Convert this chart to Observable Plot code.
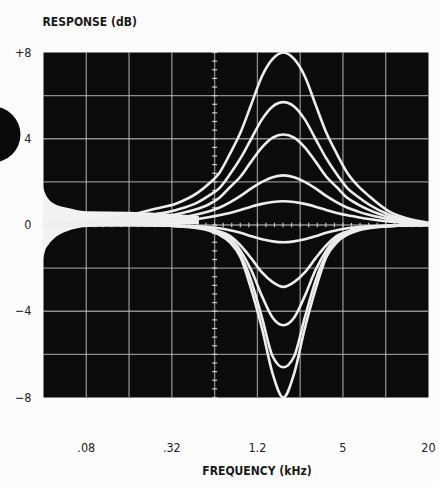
<!DOCTYPE html>
<html><head><meta charset="utf-8">
<script src="https://cdn.jsdelivr.net/npm/d3@7"></script>
<script src="https://cdn.jsdelivr.net/npm/@observablehq/plot@0.6"></script>
<style>
html,body{margin:0;padding:0;background:#fcfcfc;}
#chart{width:439px;height:487px;}
</style></head><body><div id="chart"></div>
<script>
// sample frequencies (kHz)
const freqKHz = [0.04, 0.122, 0.172, 0.244, 0.345, 0.4875, 0.580, 0.689, 0.820, 0.975, 1.160, 1.379, 1.640, 1.95, 2.319, 2.758, 3.279, 3.9, 4.638, 5.515, 6.559, 7.8, 11.03, 15.6, 20.48];
// boost curves (dB)
const boost8  = [0, 0.3, 0.5, 0.75, 1.0, 1.5, 1.9, 2.4, 3.3, 4.3, 5.6, 6.9, 7.7, 8.0, 7.7, 6.9, 5.6, 4.3, 3.3, 2.4, 1.8, 1.35, 0.6, 0.25, 0.1];
const boost57 = [0, 0.2, 0.35, 0.5, 0.7, 1.05, 1.35, 1.7, 2.35, 3.1, 4.0, 4.9, 5.5, 5.7, 5.5, 4.9, 4.0, 3.1, 2.35, 1.7, 1.3, 0.95, 0.45, 0.18, 0.07];
const boost42 = [0, 0.15, 0.25, 0.35, 0.5, 0.75, 0.95, 1.25, 1.75, 2.25, 2.95, 3.6, 4.05, 4.2, 4.05, 3.6, 2.95, 2.25, 1.75, 1.25, 0.95, 0.7, 0.35, 0.14, 0.05];
const boost23 = [0, 0.1, 0.15, 0.22, 0.32, 0.5, 0.63, 0.8, 1.05, 1.35, 1.7, 2.0, 2.22, 2.3, 2.22, 2.0, 1.7, 1.35, 1.05, 0.8, 0.62, 0.47, 0.25, 0.1, 0.04];
const boost11 = [0, 0.05, 0.08, 0.12, 0.18, 0.28, 0.36, 0.45, 0.56, 0.7, 0.85, 0.98, 1.07, 1.1, 1.07, 0.98, 0.85, 0.7, 0.56, 0.45, 0.36, 0.28, 0.15, 0.06, 0.02];
// cut curves (dB)
const cut08 = [0, 0, 0, 0, -0.02, -0.06, -0.1, -0.15, -0.24, -0.36, -0.52, -0.66, -0.76, -0.8, -0.76, -0.66, -0.52, -0.36, -0.24, -0.15, -0.1, -0.06, -0.02, 0, 0];
const cut29 = [0, 0, 0, -0.01, -0.04, -0.1, -0.18, -0.3, -0.5, -0.95, -1.55, -2.2, -2.65, -2.87, -2.65, -2.2, -1.55, -0.95, -0.5, -0.3, -0.18, -0.1, -0.04, -0.01, 0];
const cut47 = [0, 0, 0, -0.01, -0.04, -0.1, -0.18, -0.32, -0.6, -1.2, -2.1, -3.3, -4.3, -4.65, -4.3, -3.3, -2.1, -1.2, -0.6, -0.32, -0.18, -0.1, -0.04, -0.01, 0];
const cut66 = [0, 0, 0, -0.01, -0.05, -0.12, -0.2, -0.38, -0.75, -1.4, -2.6, -4.3, -6.1, -6.6, -6.1, -4.3, -2.6, -1.4, -0.75, -0.38, -0.2, -0.12, -0.05, -0.01, 0];
const cut80 = [0, 0, 0, -0.01, -0.05, -0.15, -0.25, -0.45, -0.8, -1.5, -3.0, -4.8, -6.9, -8.0, -6.9, -4.8, -3.0, -1.5, -0.8, -0.45, -0.25, -0.15, -0.05, -0.01, 0];
const curveSets = [boost8, boost57, boost42, boost23, boost11, cut08, cut29, cut47, cut66, cut80];

// overexposed glow near 0 dB at low frequencies
const glowFreq = [0.04, 0.0413, 0.0441, 0.047, 0.0527, 0.059, 0.08, 0.159, 0.32, 0.5];
const glowHi   = [1.75, 1.47, 1.15, 1.0, 0.85, 0.78, 0.62, 0.59, 0.5, 0.4];
const glowLo   = [-1.6, -1.24, -0.9, -0.7, -0.45, -0.31, -0.12, -0.03, 0.0, 0.02];

// punch hole in the page margin
const punchHole = [{f: 0.0175, db: 4.2}];

// axes
const xTickValues = [0.08, 0.32, 1.28, 5.12, 20.48];
const xTickLabels = [".08", ".32", "1.2", "5", "20"];
const yTickValues = [8, 4, 0, -4, -8];
const yTickLabels = ["+8", "4", "0", "\u22124", "\u22128"];
const gridFreqs = [0.08, 0.16, 0.32, 0.64, 1.28, 2.56, 5.12, 10.24];
const gridDb = [-6, -4, -2, 0, 2, 4, 6];

const data = curveSets.flatMap((vals, i) => vals.map((v, j) => ({f: freqKHz[j], db: v, c: i})));
const glow = glowFreq.map((f, i) => ({f, hi: glowHi[i], lo: glowLo[i]}));

// graticule minor ticks
const minorDb = d3.range(-8, 8.001, 0.4);
const minorF = d3.range(0, 46).map(k => 0.04 * Math.pow(2, k / 5));
const hTick = {draw(ctx, size) { const r = Math.sqrt(size / Math.PI); ctx.moveTo(-r, 0); ctx.lineTo(r, 0); }};
const vTick = {draw(ctx, size) { const r = Math.sqrt(size / Math.PI); ctx.moveTo(0, -r); ctx.lineTo(0, r); }};

const font = "'Liberation Sans Narrow', 'DejaVu Sans Condensed', 'Roboto Condensed', 'Roboto', sans-serif";

const chart = Plot.plot({
  width: 439, height: 487,
  marginLeft: 43, marginRight: 11, marginTop: 52, marginBottom: 90,
  style: {background: "transparent", fontFamily: font, color: "#222", fontSize: "12px"},
  x: {type: "log", domain: [0.04, 20.48], label: null, axis: null},
  y: {domain: [-8, 8], label: null, axis: null},
  marks: [
    Plot.frame({fill: "#0b0b0b", stroke: null}),
    Plot.gridX(gridFreqs, {stroke: "#c4c4c4", strokeOpacity: 0.7, strokeWidth: 1.3}),
    Plot.gridY(gridDb, {stroke: "#c4c4c4", strokeOpacity: 0.7, strokeWidth: 1.3}),
    Plot.dot(minorDb, {x: () => 0.64, y: d => d, symbol: hTick, r: 2.5, stroke: "#d0d0d0", strokeWidth: 1.2, fill: null}),
    Plot.dot(minorF, {x: d => d, y: () => 0, symbol: vTick, r: 2.2, stroke: "#d0d0d0", strokeWidth: 1.1, fill: null}),
    Plot.areaY(glow, {x: "f", y1: "lo", y2: "hi", fill: "#f2f2f2", curve: "monotone-x"}),
    Plot.line(data, {x: "f", y: "db", z: "c", stroke: "#ededed", strokeWidth: 2.6, curve: "monotone-x"}),
    Plot.dot(punchHole, {x: "f", y: "db", r: 28, fill: "#0a0a0a", stroke: null, clip: false}),
    Plot.text(xTickValues, {x: d => d, frameAnchor: "bottom", dy: 54, text: (d, i) => xTickLabels[i], fontSize: 12.5, fill: "#222"}),
    Plot.text(yTickValues, {y: d => d, frameAnchor: "left", dx: -12, textAnchor: "end", text: (d, i) => yTickLabels[i], fontSize: 12.5, fill: "#222"}),
    Plot.text(["RESPONSE (dB)"], {frameAnchor: "top-left", dx: -1, dy: -35, text: d => d, textAnchor: "start", fontWeight: "bold", fontSize: 12, fill: "#1a1a1a"}),
    Plot.text(["FREQUENCY (kHz)"], {frameAnchor: "bottom", dx: 21, dy: 77, text: d => d, fontWeight: "bold", fontSize: 12, fill: "#1a1a1a"})
  ]
});
document.getElementById("chart").appendChild(chart);
</script></body></html>
